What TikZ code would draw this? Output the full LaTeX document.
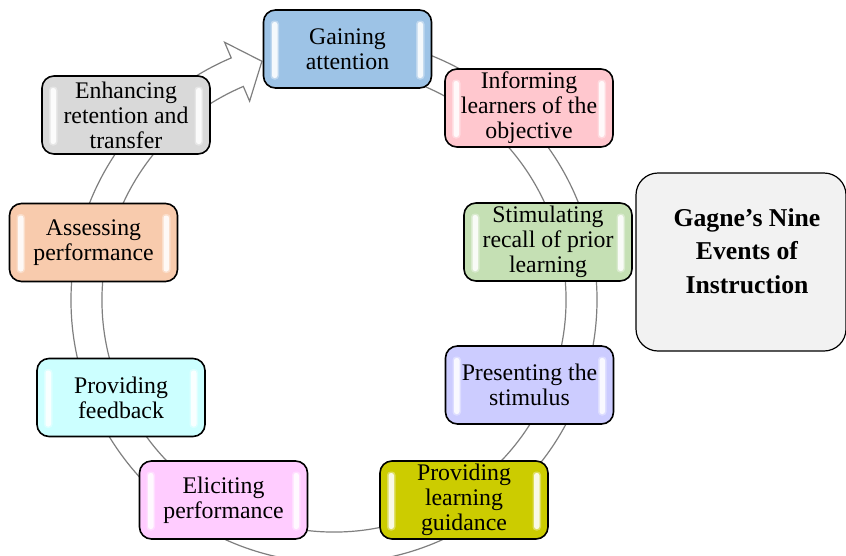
\documentclass[tikz,border=0pt]{standalone}
\usepackage{fontspec}
\setmainfont{Liberation Serif}
\definecolor{cGain}{HTML}{9DC3E6}
\definecolor{cInform}{HTML}{FFC7CE}
\definecolor{cStim}{HTML}{C5E0B4}
\definecolor{cPres}{HTML}{CCCCFF}
\definecolor{cGuide}{HTML}{CCCC00}
\definecolor{cElicit}{HTML}{FFCCFF}
\definecolor{cFeed}{HTML}{CCFFFF}
\definecolor{cAssess}{HTML}{F8CBAD}
\definecolor{cRetain}{HTML}{D9D9D9}
\definecolor{cTitle}{HTML}{F2F2F2}
\definecolor{cRing}{HTML}{7F7F7F}
\begin{document}
\begin{tikzpicture}[x=1pt,y=-1pt,
  box/.style={draw=black, line width=1.6pt, rounded corners=12pt,
    minimum width=168pt, minimum height=78pt, align=center, inner sep=1pt,
    font=\fontsize{23.8}{25}\selectfont,
    path picture={
      \fill[white,opacity=.35,rounded corners=3.5pt]
        ([xshift=7pt,yshift=8.5pt]path picture bounding box.south west) rectangle ++(8.5pt,59pt);
      \fill[white,opacity=.35,rounded corners=3.5pt]
        ([xshift=-15.5pt,yshift=8.5pt]path picture bounding box.south east) rectangle ++(8.5pt,59pt);
      \fill[white,opacity=.85,rounded corners=2.5pt]
        ([xshift=8.5pt,yshift=10pt]path picture bounding box.south west) rectangle ++(5.5pt,56pt);
      \fill[white,opacity=.85,rounded corners=2.5pt]
        ([xshift=-14pt,yshift=10pt]path picture bounding box.south east) rectangle ++(5.5pt,56pt);
    }},
  ringband/.style={draw=cRing, fill=white, line width=1.2pt, line join=miter},
  titlebox/.style={draw=black, line width=1.2pt, fill=cTitle, rounded corners=22pt,
    minimum width=210pt, minimum height=178pt},
  titletxt/.style={align=center, font=\bfseries\fontsize{25.7}{33.5}\selectfont}]
\useasboundingbox (0,0) rectangle (846,555);

% circular band with arrow head (clockwise in the picture)
\begin{scope}[shift={(334,300)}]
  \draw[ringband] (-85:263) arc[start angle=-85, end angle=247, radius=263]
    -- (247:280) -- (253.2:249.4) -- (247:216) -- (247:232)
    arc[start angle=247, end angle=-85, radius=232] -- cycle;
\end{scope}

% the nine events
\node[box, fill=cGain]   (gain)   at (347.5,49)  {Gaining\\attention};
\node[box, fill=cInform] (inform) at (529,108)   {Informing\\learners of the\\objective};
\node[box, fill=cStim]   (stim)   at (548,242)   {Stimulating\\recall of prior\\learning};
\node[box, fill=cPres]   (pres)   at (529.5,385) {Presenting the\\stimulus};
\node[box, fill=cGuide]  (guide)  at (464,500)   {Providing\\learning\\guidance};
\node[box, fill=cElicit] (elicit) at (223.5,500) {Eliciting\\performance};
\node[box, fill=cFeed]   (feed)   at (121,397.5) {Providing\\feedback};
\node[box, fill=cAssess] (assess) at (93.5,242.5) {Assessing\\performance};
\node[box, fill=cRetain] (retain) at (126,115)   {Enhancing\\retention and\\transfer};

% title
\node[titlebox] (title) at (741,262) {};
\node[titletxt] (titletext) at (747,251) {Gagne’s Nine\\Events of\\Instruction};
\end{tikzpicture}
\end{document}
